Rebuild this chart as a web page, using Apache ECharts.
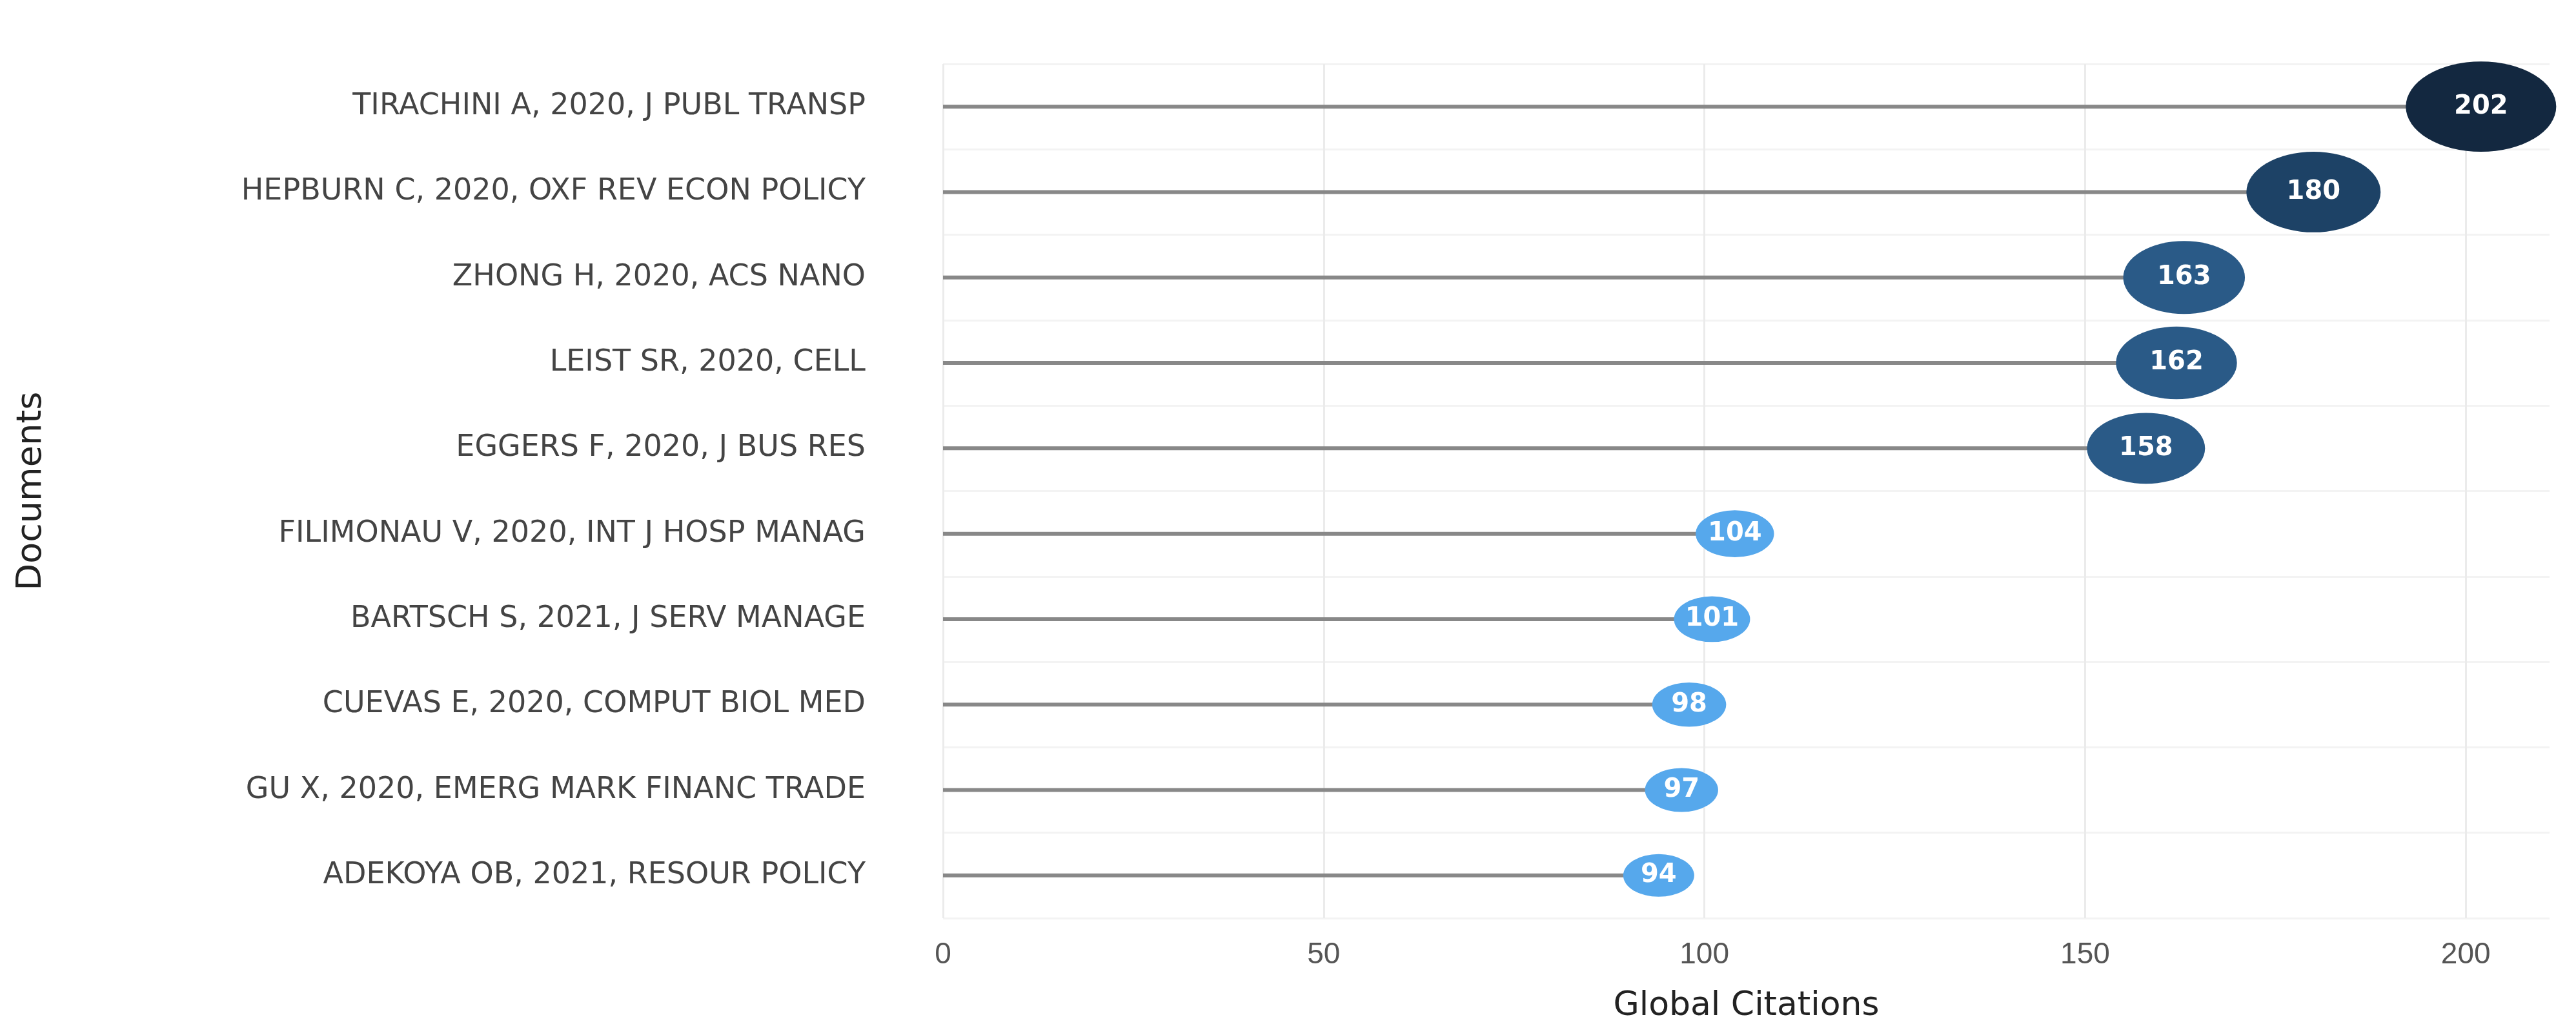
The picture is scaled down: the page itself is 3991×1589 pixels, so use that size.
<!DOCTYPE html><html><head><meta charset="utf-8"><script src="https://cdn.jsdelivr.net/npm/echarts@6/dist/echarts.min.js"></script></head><body style="margin:0"><div id="c" style="width:3991px;height:1589px"></div><script>
const documents=["TIRACHINI A, 2020, J PUBL TRANSP","HEPBURN C, 2020, OXF REV ECON POLICY","ZHONG H, 2020, ACS NANO","LEIST SR, 2020, CELL","EGGERS F, 2020, J BUS RES","FILIMONAU V, 2020, INT J HOSP MANAG","BARTSCH S, 2021, J SERV MANAGE","CUEVAS E, 2020, COMPUT BIOL MED","GU X, 2020, EMERG MARK FINANC TRADE","ADEKOYA OB, 2021, RESOUR POLICY"];
const citations=[202,180,163,162,158,104,101,98,97,94];
const xTicks=[0,50,100,150,200];
function col(v){return v>=200?'#132840':v>=170?'#1d4266':v>=150?'#2a5a87':'#56a8ec';}
function sz(v){const w=110+(v-94)*(233-110)/108;return [w,w*0.6];}
const ch=echarts.init(document.getElementById('c'));
ch.setOption({
grid:{left:1461,right:41,top:99,height:1330},
xAxis:{type:'value',min:0,max:211,interval:50,name:'Global Citations',nameLocation:'middle',nameGap:110,nameTextStyle:{fontSize:52,color:'#222',fontFamily:'DejaVu Sans'},
axisLabel:{fontSize:46,color:'#555',margin:34,formatter:v=>xTicks.includes(v)?v:''},axisLine:{show:false},axisTick:{show:false},splitLine:{showMaxLine:false,lineStyle:{color:'#ebebeb',width:3}}},
yAxis:{type:'category',inverse:true,data:documents,name:'Documents',nameLocation:'middle',nameGap:1385,nameRotate:90,nameTextStyle:{fontSize:54,color:'#222',fontFamily:'DejaVu Sans'},
axisLabel:{fontSize:46,color:'#444',margin:120,fontFamily:'DejaVu Sans'},axisLine:{show:false},axisTick:{show:false},splitLine:{show:true,lineStyle:{color:'#f3f3f3',width:3}}},
series:[
{type:'bar',data:citations,barWidth:6,itemStyle:{color:'#888'},silent:true},
{type:'scatter',data:citations.map(v=>({value:v,symbolSize:sz(v),itemStyle:{color:col(v),opacity:1}})),
label:{show:true,formatter:p=>p.value,color:'#fff',fontSize:40,fontWeight:'bold',fontFamily:'DejaVu Sans'},z:5}
]});
</script></body></html>
